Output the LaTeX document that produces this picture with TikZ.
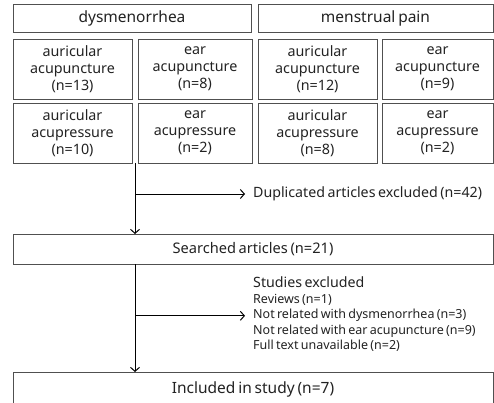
\documentclass[tikz,border=0pt]{standalone}
\usepackage{fontspec}
\setmainfont{Noto Sans}[WordSpace={0.7,0.3,0.1}]
\usepackage{xcolor}
\definecolor{Box Grey}{HTML}{505050}
\definecolor{Text Grey}{HTML}{222222}
\usetikzlibrary{arrows.meta, positioning}
\tikzset{
	node distance = 6pt,
	line width = .9pt,
	>={Straight Barb[length=4pt,width=9pt]},
	font = \fontsize{14.3}{17}\selectfont,
	box/.style={
		draw=Box Grey,
		rectangle,
		inner sep=0pt,
		outer sep=0pt,
		align=center,
		text=Text Grey
	},
	cell/.style={box, minimum height=60pt},
	head/.style={box, minimum height=28pt, font=\fontsize{15.5}{17}\selectfont},
	note/.style={
		text=Text Grey,
		inner sep=0pt,
		text height=9pt,
		text depth=3pt,
		font=\fontsize{12.5}{14}\selectfont
	},
	flow/.style={
		->,
		line width=1pt
	}
}

\begin{document}
\begin{tikzpicture}[x=1pt,y=-1pt]
        \clip (0,0) rectangle (494,403);
        \node[head, minimum width=238pt] (dys) at (132,18) {dysmenorrhea};
        \node[head, minimum width=235pt, right=7pt of dys] (men) {menstrual pain};
        \node[cell, minimum width=119pt] (aa1) at (72.5,69) {auricular\\acupuncture\\(n=13)};
        \node[cell, minimum width=114pt, right=6pt of aa1] (ea1) {ear\\acupuncture\\(n=8)};
        \node[cell, minimum width=119pt, right=6pt of ea1] (aa2) {auricular\\acupuncture\\(n=12)};
        \node[cell, minimum width=111pt, right=5pt of aa2] (ea2) {ear\\acupuncture\\(n=9)};
        \node[cell, minimum width=119pt, below=4pt of aa1] (ap1) {auricular\\acupressure\\(n=10)};
        \node[cell, minimum width=114pt, below=4pt of ea1] (ep1) {ear\\acupressure\\(n=2)};
        \node[cell, minimum width=119pt, below=4pt of aa2] (ap2) {auricular\\acupressure\\(n=8)};
        \node[cell, minimum width=111pt, below=4pt of ea2] (ep2) {ear\\acupressure\\(n=2)};
        \node[box, minimum width=480pt, minimum height=30pt, font=\fontsize{14.6}{17}\selectfont] (srch) at (253,249) {Searched articles (n=21)};
        \node[box, minimum width=480pt, minimum height=34pt, font=\fontsize{15.5}{17}\selectfont] (inc) at (253,389) {Included in study (n=7)};
        % exclusions
        \node[note, anchor=west, font=\fontsize{14.2}{17}\selectfont] (dup) at (253,194) {Duplicated articles excluded (n=42)};
        \node[note, anchor=west, font=\fontsize{14.2}{17}\selectfont] (exc0) at (253,284) {Studies excluded};
        \node[note, below right=4pt and 0pt of exc0.south west] (exc1) {Reviews (n=1)};
        \node[note, below right=3pt and 0pt of exc1.south west] (exc2) {Not related with dysmenorrhea (n=3)};
        \node[note, below right=3pt and 0pt of exc2.south west] (exc3) {Not related with ear acupuncture (n=9)};
        \node[note, below right=3pt and 0pt of exc3.south west] (exc4) {Full text unavailable (n=2)};
        % flow
        \coordinate (s1) at (135,163);
        \coordinate (b1) at (s1 |- dup.west);
        \coordinate (s2) at (s1 |- srch.south);
        \coordinate (b2) at (s1 |- exc2.west);
        \draw[flow] (s1) -- (s1 |- srch.north);
        \draw[flow, shorten >=8pt] (b1) -- (dup.west);
        \draw[flow] (s2) -- (s2 |- inc.north);
        \draw[flow, shorten >=8pt] (b2) -- (exc2.west);
    \end{tikzpicture}
\end{document}
